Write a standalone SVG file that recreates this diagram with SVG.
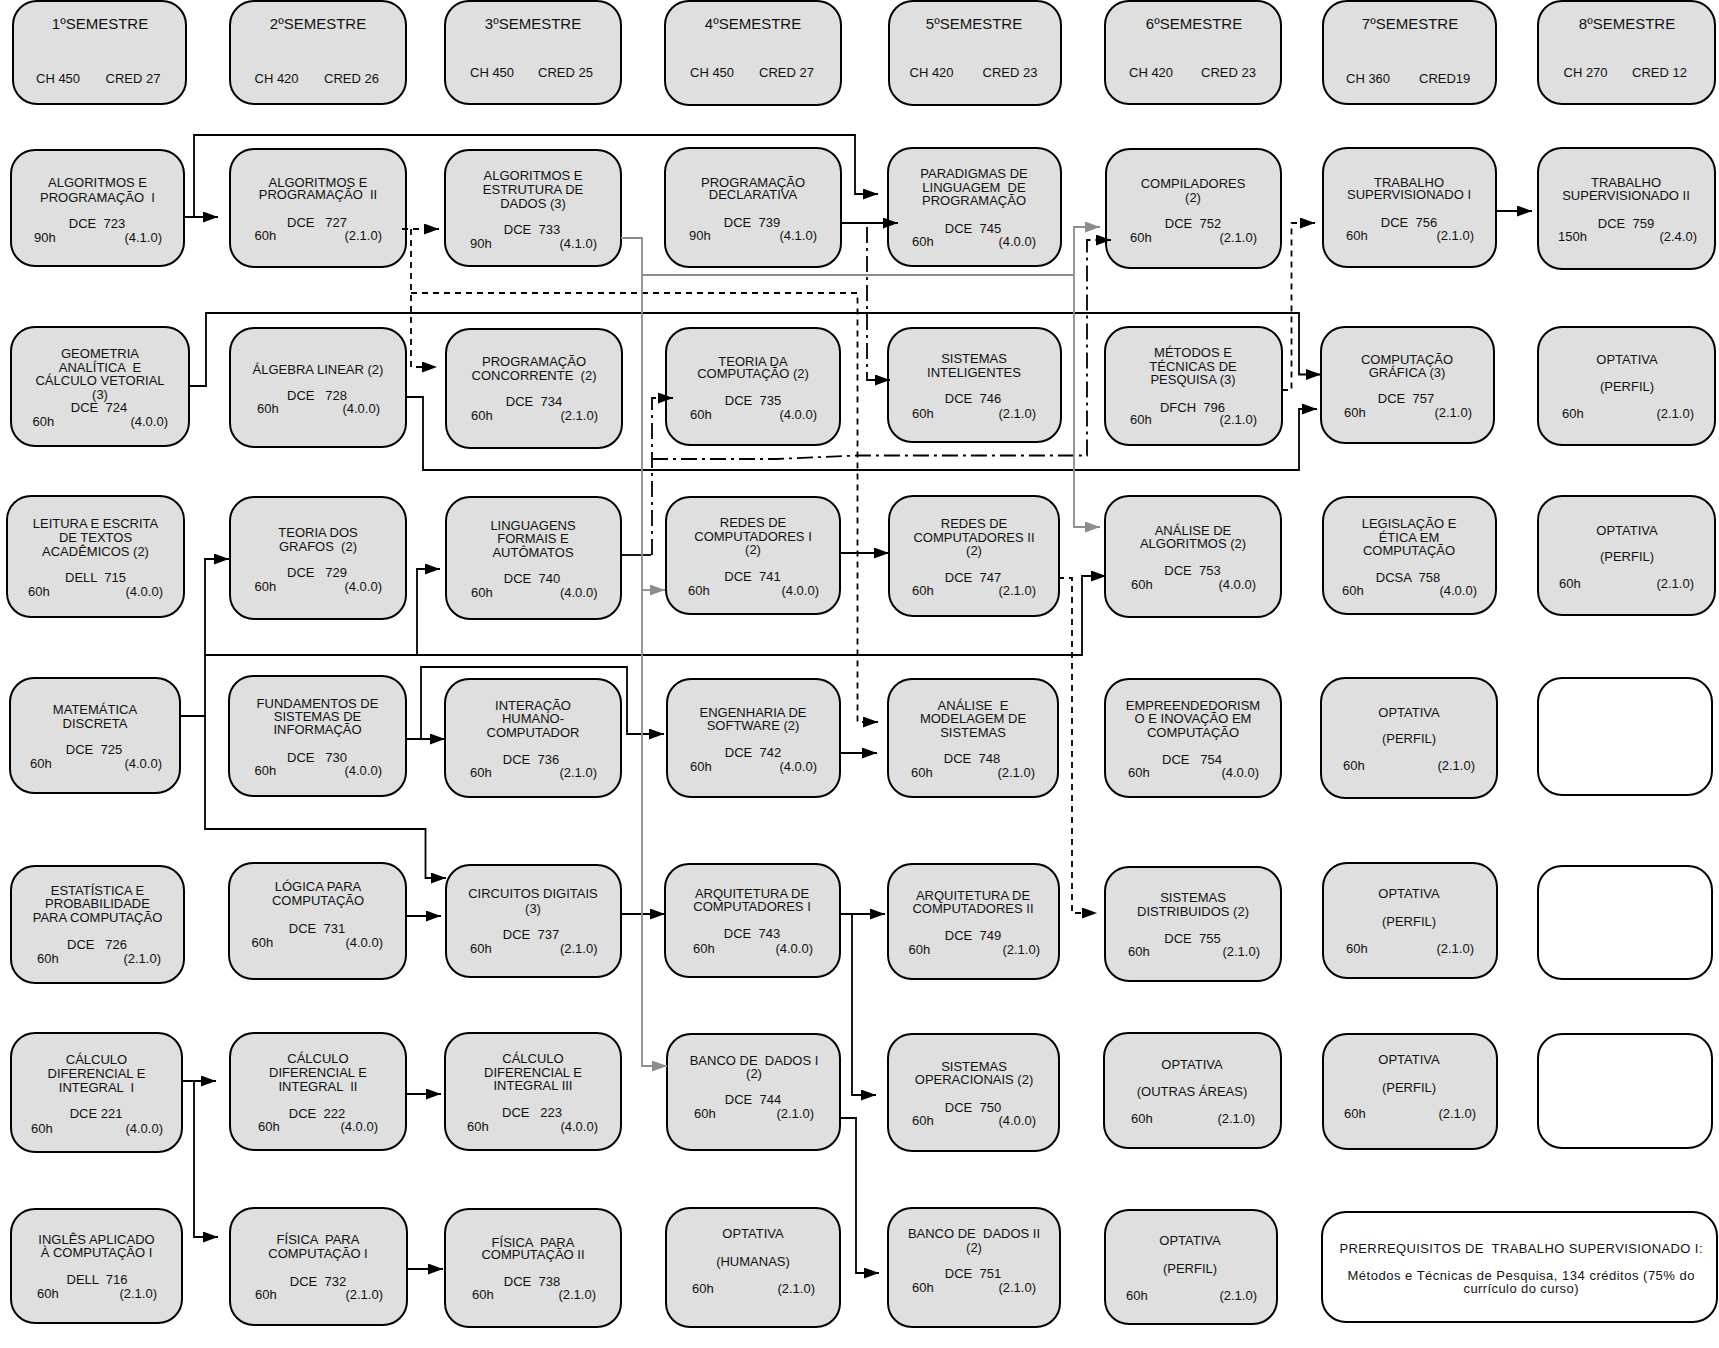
<svg xmlns="http://www.w3.org/2000/svg" width="1719" height="1348" viewBox="0 0 1719 1348">
<style>
text{font-family:"Liberation Sans",Arial,sans-serif;font-size:13px;fill:#111;white-space:pre}
.c{text-anchor:middle}
.r{text-anchor:end}
.h{font-size:15px}
.box{fill:#dfdfdf;stroke:#000;stroke-width:2}
.wbox{fill:#fff;stroke:#000;stroke-width:2}
.ln{fill:none;stroke:#000;stroke-width:1.8}
.dash{fill:none;stroke:#000;stroke-width:1.8;stroke-dasharray:6 5}
.dd{fill:none;stroke:#000;stroke-width:1.8;stroke-dasharray:16 5 3 5}
.gr{fill:none;stroke:#8c8c8c;stroke-width:1.8}
.a{marker-end:url(#ah)}
.ag{marker-end:url(#ahg)}
</style>
<defs>
<marker id="ah" viewBox="0 0 15 11" refX="15" refY="5.5" markerWidth="15" markerHeight="11" markerUnits="userSpaceOnUse" orient="auto"><path d="M0,0 L15,5.5 L0,11 z" fill="#000"/></marker>
<marker id="ahg" viewBox="0 0 15 11" refX="15" refY="5.5" markerWidth="15" markerHeight="11" markerUnits="userSpaceOnUse" orient="auto"><path d="M0,0 L15,5.5 L0,11 z" fill="#8c8c8c"/></marker>
</defs>
<rect width="1719" height="1348" fill="#fff"/>

<!-- headers -->
<g id="h1"><rect class="box" x="13" y="1" width="173" height="103" rx="24"/><text class="c h" x="100" y="28.5">1ºSEMESTRE</text><text x="36" y="82.5">CH 450</text><text x="105.5" y="82.5">CRED 27</text></g>
<g id="h2"><rect class="box" x="230" y="1" width="176" height="103" rx="24"/><text class="c h" x="318" y="28.5">2ºSEMESTRE</text><text x="254.5" y="82.5">CH 420</text><text x="324" y="82.5">CRED 26</text></g>
<g id="h3"><rect class="box" x="445" y="1" width="176" height="103" rx="24"/><text class="c h" x="533" y="28.5">3ºSEMESTRE</text><text x="470" y="76.5">CH 450</text><text x="538" y="76.5">CRED 25</text></g>
<g id="h4"><rect class="box" x="665" y="1" width="176" height="104" rx="24"/><text class="c h" x="753" y="28.5">4ºSEMESTRE</text><text x="690" y="76.5">CH 450</text><text x="759" y="76.5">CRED 27</text></g>
<g id="h5"><rect class="box" x="889" y="1" width="172" height="104" rx="24"/><text class="c h" x="974" y="28.5">5ºSEMESTRE</text><text x="909.5" y="76.5">CH 420</text><text x="982.5" y="76.5">CRED 23</text></g>
<g id="h6"><rect class="box" x="1105" y="1" width="176" height="103" rx="24"/><text class="c h" x="1194" y="28.5">6ºSEMESTRE</text><text x="1129" y="76.5">CH 420</text><text x="1201" y="76.5">CRED 23</text></g>
<g id="h7"><rect class="box" x="1323" y="1" width="173" height="103" rx="24"/><text class="c h" x="1410" y="29">7ºSEMESTRE</text><text x="1346" y="82.5">CH 360</text><text x="1419" y="82.5">CRED19</text></g>
<g id="h8"><rect class="box" x="1538" y="1" width="177" height="103" rx="24"/><text class="c h" x="1627" y="29">8ºSEMESTRE</text><text x="1563.5" y="76.5">CH 270</text><text x="1632" y="76.5">CRED 12</text></g>

<!-- row 1 -->
<g id="n723"><rect class="box" x="11" y="150" width="173" height="116" rx="24"/><text class="c" x="97.5" y="186.5">ALGORITMOS E</text><text class="c" x="97.5" y="201.5">PROGRAMAÇÃO  I</text><text class="c" x="97" y="227.5">DCE  723</text><text x="34" y="241.5">90h</text><text class="r" x="162" y="241.5">(4.1.0)</text></g>
<g id="n727"><rect class="box" x="230" y="149" width="176" height="118" rx="24"/><text class="c" x="318" y="186.5">ALGORITMOS E</text><text class="c" x="318" y="198.5">PROGRAMAÇÃO  II</text><text class="c" x="317" y="226.5">DCE   727</text><text x="254.5" y="239.5">60h</text><text class="r" x="382" y="239.5">(2.1.0)</text></g>
<g id="n733"><rect class="box" x="445" y="150" width="176" height="116" rx="24"/><text class="c" x="533" y="179.5">ALGORITMOS E</text><text class="c" x="533" y="193.5">ESTRUTURA DE</text><text class="c" x="533" y="207.5">DADOS (3)</text><text class="c" x="532" y="233.5">DCE  733</text><text x="470" y="247.5">90h</text><text class="r" x="597" y="247.5">(4.1.0)</text></g>
<g id="n739"><rect class="box" x="665" y="148" width="176" height="119" rx="24"/><text class="c" x="753" y="186.5">PROGRAMAÇÃO</text><text class="c" x="753" y="198.5">DECLARATIVA</text><text class="c" x="752" y="226.5">DCE  739</text><text x="689" y="239.5">90h</text><text class="r" x="817" y="239.5">(4.1.0)</text></g>
<g id="n745"><rect class="box" x="888" y="148" width="173" height="118" rx="24"/><text class="c" x="974" y="177.5">PARADIGMAS DE</text><text class="c" x="974" y="191.5">LINGUAGEM  DE</text><text class="c" x="974" y="204.5">PROGRAMAÇÃO</text><text class="c" x="973" y="232.5">DCE  745</text><text x="912" y="245.5">60h</text><text class="r" x="1036" y="245.5">(4.0.0)</text></g>
<g id="n752"><rect class="box" x="1106" y="149" width="175" height="119" rx="24"/><text class="c" x="1193" y="187.5">COMPILADORES</text><text class="c" x="1193" y="201.5">(2)</text><text class="c" x="1193" y="227.5">DCE  752</text><text x="1130" y="241.5">60h</text><text class="r" x="1257" y="241.5">(2.1.0)</text></g>
<g id="n756"><rect class="box" x="1323" y="148" width="173" height="119" rx="24"/><text class="c" x="1409" y="186.5">TRABALHO</text><text class="c" x="1409" y="198.5">SUPERVISIONADO I</text><text class="c" x="1409" y="226.5">DCE  756</text><text x="1346" y="239.5">60h</text><text class="r" x="1474" y="239.5">(2.1.0)</text></g>
<g id="n759"><rect class="box" x="1538" y="148" width="177" height="121" rx="24"/><text class="c" x="1626" y="186.5">TRABALHO</text><text class="c" x="1626" y="199.5">SUPERVISIONADO II</text><text class="c" x="1626" y="227.5">DCE  759</text><text x="1558" y="240.5">150h</text><text class="r" x="1697" y="240.5">(2.4.0)</text></g>

<!-- row 2 -->
<g id="n724"><rect class="box" x="11" y="327" width="178" height="119" rx="24"/><text class="c" x="100" y="357.5">GEOMETRIA</text><text class="c" x="100" y="371.5">ANALÍTICA  E</text><text class="c" x="100" y="384.5">CÁLCULO VETORIAL</text><text class="c" x="100" y="398.5">(3)</text><text class="c" x="99" y="411.5">DCE  724</text><text x="32.5" y="425.5">60h</text><text class="r" x="168" y="425.5">(4.0.0)</text></g>
<g id="n728"><rect class="box" x="230" y="328" width="176" height="119" rx="24"/><text class="c" x="318" y="373.5">ÁLGEBRA LINEAR (2)</text><text class="c" x="317" y="399.5">DCE   728</text><text x="257" y="412.5">60h</text><text class="r" x="380" y="412.5">(4.0.0)</text></g>
<g id="n734"><rect class="box" x="446" y="329" width="176" height="119" rx="24"/><text class="c" x="534" y="365.5">PROGRAMAÇÃO</text><text class="c" x="534" y="379.5">CONCORRENTE  (2)</text><text class="c" x="534" y="405.5">DCE  734</text><text x="471" y="419.5">60h</text><text class="r" x="598" y="419.5">(2.1.0)</text></g>
<g id="n735"><rect class="box" x="666" y="328" width="174" height="117" rx="24"/><text class="c" x="753" y="365.5">TEORIA DA</text><text class="c" x="753" y="378">COMPUTAÇÃO (2)</text><text class="c" x="753" y="404.5">DCE  735</text><text x="690" y="418.5">60h</text><text class="r" x="817" y="418.5">(4.0.0)</text></g>
<g id="n746"><rect class="box" x="888" y="328" width="173" height="114" rx="24"/><text class="c" x="974" y="362.5">SISTEMAS</text><text class="c" x="974" y="376.5">INTELIGENTES</text><text class="c" x="973" y="402.5">DCE  746</text><text x="912" y="417.5">60h</text><text class="r" x="1036" y="417.5">(2.1.0)</text></g>
<g id="n796"><rect class="box" x="1105" y="327" width="177" height="118" rx="24"/><text class="c" x="1193" y="356.5">MÉTODOS E</text><text class="c" x="1193" y="370.5">TÉCNICAS DE</text><text class="c" x="1193" y="383.5">PESQUISA (3)</text><text class="c" x="1192.5" y="411.5">DFCH  796</text><text x="1130" y="423.5">60h</text><text class="r" x="1257" y="423.5">(2.1.0)</text></g>
<g id="n757"><rect class="box" x="1321" y="327" width="173" height="116" rx="24"/><text class="c" x="1407" y="363.5">COMPUTAÇÃO</text><text class="c" x="1407" y="376.5">GRÁFICA (3)</text><text class="c" x="1406" y="402.5">DCE  757</text><text x="1344" y="416.5">60h</text><text class="r" x="1472" y="416.5">(2.1.0)</text></g>
<g id="opt8a"><rect class="box" x="1538" y="327" width="177" height="118" rx="24"/><text class="c" x="1627" y="363.5">OPTATIVA</text><text class="c" x="1627" y="390.5">(PERFIL)</text><text x="1562" y="417.5">60h</text><text class="r" x="1694" y="417.5">(2.1.0)</text></g>

<!-- row 3 -->
<g id="n715"><rect class="box" x="7" y="496" width="177" height="121" rx="24"/><text class="c" x="95.5" y="527.5">LEITURA E ESCRITA</text><text class="c" x="95.5" y="541.5">DE TEXTOS</text><text class="c" x="95.5" y="555.5">ACADÊMICOS (2)</text><text class="c" x="95.5" y="581.5">DELL  715</text><text x="28" y="595.5">60h</text><text class="r" x="163" y="595.5">(4.0.0)</text></g>
<g id="n729"><rect class="box" x="230" y="497" width="176" height="122" rx="24"/><text class="c" x="318" y="536.5">TEORIA DOS</text><text class="c" x="318" y="550.5">GRAFOS  (2)</text><text class="c" x="317" y="576.5">DCE   729</text><text x="254.5" y="590.5">60h</text><text class="r" x="382" y="590.5">(4.0.0)</text></g>
<g id="n740"><rect class="box" x="446" y="497" width="175" height="122" rx="24"/><text class="c" x="533" y="529.5">LINGUAGENS</text><text class="c" x="533" y="542.5">FORMAIS E</text><text class="c" x="533" y="556.5">AUTÔMATOS</text><text class="c" x="532" y="582.5">DCE  740</text><text x="471" y="596.5">60h</text><text class="r" x="597.5" y="596.5">(4.0.0)</text></g>
<g id="n741"><rect class="box" x="666" y="497" width="174" height="117" rx="24"/><text class="c" x="753" y="526.5">REDES DE</text><text class="c" x="753" y="540.5">COMPUTADORES I</text><text class="c" x="753" y="553.5">(2)</text><text class="c" x="752.5" y="580.5">DCE  741</text><text x="688" y="594.5">60h</text><text class="r" x="819" y="594.5">(4.0.0)</text></g>
<g id="n747"><rect class="box" x="889" y="496" width="170" height="120" rx="24"/><text class="c" x="974" y="527.5">REDES DE</text><text class="c" x="974" y="541.5">COMPUTADORES II</text><text class="c" x="974" y="554.5">(2)</text><text class="c" x="973" y="581.5">DCE  747</text><text x="912" y="594.5">60h</text><text class="r" x="1036" y="594.5">(2.1.0)</text></g>
<g id="n753"><rect class="box" x="1105" y="496" width="176" height="121" rx="24"/><text class="c" x="1193" y="534.5">ANÁLISE DE</text><text class="c" x="1193" y="547.5">ALGORITMOS (2)</text><text class="c" x="1192.5" y="574.5">DCE  753</text><text x="1131" y="588.5">60h</text><text class="r" x="1256" y="588.5">(4.0.0)</text></g>
<g id="n758"><rect class="box" x="1323" y="497" width="173" height="117" rx="24"/><text class="c" x="1409" y="527.5">LEGISLAÇÃO E</text><text class="c" x="1409" y="541.5">ÉTICA EM</text><text class="c" x="1409" y="554.5">COMPUTAÇÃO</text><text class="c" x="1408" y="581.5">DCSA  758</text><text x="1342" y="594.5">60h</text><text class="r" x="1477" y="594.5">(4.0.0)</text></g>
<g id="opt8b"><rect class="box" x="1538" y="496" width="177" height="119" rx="24"/><text class="c" x="1627" y="534.5">OPTATIVA</text><text class="c" x="1627" y="560.5">(PERFIL)</text><text x="1559" y="587.5">60h</text><text class="r" x="1694" y="587.5">(2.1.0)</text></g>

<!-- row 4 -->
<g id="n725"><rect class="box" x="10" y="678" width="170" height="115" rx="24"/><text class="c" x="95" y="713.5">MATEMÁTICA</text><text class="c" x="95" y="727.5">DISCRETA</text><text class="c" x="94" y="753.5">DCE  725</text><text x="30" y="767.5">60h</text><text class="r" x="162" y="767.5">(4.0.0)</text></g>
<g id="n730"><rect class="box" x="229" y="676" width="177" height="120" rx="24"/><text class="c" x="317.5" y="707.5">FUNDAMENTOS DE</text><text class="c" x="317.5" y="720.5">SISTEMAS DE</text><text class="c" x="317.5" y="733.5">INFORMAÇÃO</text><text class="c" x="317" y="761.5">DCE   730</text><text x="254.5" y="774.5">60h</text><text class="r" x="382" y="774.5">(4.0.0)</text></g>
<g id="n736"><rect class="box" x="445" y="679" width="176" height="118" rx="24"/><text class="c" x="533" y="709.5">INTERAÇÃO</text><text class="c" x="533" y="722.5">HUMANO-</text><text class="c" x="533" y="736.5">COMPUTADOR</text><text class="c" x="531" y="763.5">DCE  736</text><text x="470" y="776.5">60h</text><text class="r" x="597" y="776.5">(2.1.0)</text></g>
<g id="n742"><rect class="box" x="667" y="679" width="173" height="118" rx="24"/><text class="c" x="753" y="716.5">ENGENHARIA DE</text><text class="c" x="753" y="729.5">SOFTWARE (2)</text><text class="c" x="753" y="756.5">DCE  742</text><text x="690" y="770.5">60h</text><text class="r" x="817" y="770.5">(4.0.0)</text></g>
<g id="n748"><rect class="box" x="888" y="679" width="170" height="118" rx="24"/><text class="c" x="973" y="709.5">ANÁLISE  E</text><text class="c" x="973" y="722.5">MODELAGEM DE</text><text class="c" x="973" y="736.5">SISTEMAS</text><text class="c" x="972" y="762.5">DCE  748</text><text x="911" y="776.5">60h</text><text class="r" x="1035" y="776.5">(2.1.0)</text></g>
<g id="n754"><rect class="box" x="1105" y="679" width="176" height="118" rx="24"/><text class="c" x="1193" y="709.5">EMPREENDEDORISM</text><text class="c" x="1193" y="722.5">O E INOVAÇÃO EM</text><text class="c" x="1193" y="736.5">COMPUTAÇÃO</text><text class="c" x="1192" y="763.5">DCE   754</text><text x="1128" y="776.5">60h</text><text class="r" x="1259" y="776.5">(4.0.0)</text></g>
<g id="opt7a"><rect class="box" x="1321" y="678" width="176" height="120" rx="24"/><text class="c" x="1409" y="716.5">OPTATIVA</text><text class="c" x="1409" y="742.5">(PERFIL)</text><text x="1343" y="769.5">60h</text><text class="r" x="1475" y="769.5">(2.1.0)</text></g>
<g id="e8a"><rect class="wbox" x="1538" y="678" width="174" height="117" rx="24"/></g>

<!-- row 5 -->
<g id="n726"><rect class="box" x="11" y="866" width="173" height="117" rx="24"/><text class="c" x="97.5" y="894.5">ESTATÍSTICA E</text><text class="c" x="97.5" y="908">PROBABILIDADE</text><text class="c" x="97.5" y="921.5">PARA COMPUTAÇÃO</text><text class="c" x="97" y="948.5">DCE   726</text><text x="37" y="962.5">60h</text><text class="r" x="161" y="962.5">(2.1.0)</text></g>
<g id="n731"><rect class="box" x="229" y="863" width="177" height="116" rx="24"/><text class="c" x="318" y="890.5">LÓGICA PARA</text><text class="c" x="318" y="904.5">COMPUTAÇÃO</text><text class="c" x="317" y="932.5">DCE  731</text><text x="251.5" y="946.5">60h</text><text class="r" x="383" y="946.5">(4.0.0)</text></g>
<g id="n737"><rect class="box" x="446" y="865" width="175" height="112" rx="24"/><text class="c" x="533" y="897.5">CIRCUITOS DIGITAIS</text><text class="c" x="533" y="912.5">(3)</text><text class="c" x="531" y="938.5">DCE  737</text><text x="470" y="952.5">60h</text><text class="r" x="597.5" y="952.5">(2.1.0)</text></g>
<g id="n743"><rect class="box" x="665" y="864" width="175" height="113" rx="24"/><text class="c" x="752" y="897.5">ARQUITETURA DE</text><text class="c" x="752" y="910.5">COMPUTADORES I</text><text class="c" x="752" y="937.5">DCE  743</text><text x="693" y="952.5">60h</text><text class="r" x="813" y="952.5">(4.0.0)</text></g>
<g id="n749"><rect class="box" x="888" y="864" width="171" height="115" rx="24"/><text class="c" x="973" y="899.5">ARQUITETURA DE</text><text class="c" x="973" y="912.5">COMPUTADORES II</text><text class="c" x="973" y="939.5">DCE  749</text><text x="908.5" y="953.5">60h</text><text class="r" x="1040" y="953.5">(2.1.0)</text></g>
<g id="n755"><rect class="box" x="1105" y="867" width="176" height="114" rx="24"/><text class="c" x="1193" y="901.5">SISTEMAS</text><text class="c" x="1193" y="915.5">DISTRIBUIDOS (2)</text><text class="c" x="1192.5" y="942.5">DCE  755</text><text x="1128" y="955.5">60h</text><text class="r" x="1260" y="955.5">(2.1.0)</text></g>
<g id="opt7b"><rect class="box" x="1323" y="863" width="174" height="115" rx="24"/><text class="c" x="1409" y="898">OPTATIVA</text><text class="c" x="1409" y="925.5">(PERFIL)</text><text x="1346" y="952.5">60h</text><text class="r" x="1474" y="952.5">(2.1.0)</text></g>
<g id="e8b"><rect class="wbox" x="1538" y="866" width="174" height="113" rx="24"/></g>

<!-- row 6 -->
<g id="n221"><rect class="box" x="11" y="1033" width="171" height="119" rx="24"/><text class="c" x="96.5" y="1063.5">CÁLCULO</text><text class="c" x="96.5" y="1077.5">DIFERENCIAL E</text><text class="c" x="96.5" y="1091.5">INTEGRAL  I</text><text class="c" x="96" y="1117.5">DCE 221</text><text x="31" y="1132.5">60h</text><text class="r" x="163" y="1132.5">(4.0.0)</text></g>
<g id="n222"><rect class="box" x="230" y="1033" width="176" height="117" rx="24"/><text class="c" x="318" y="1062.5">CÁLCULO</text><text class="c" x="318" y="1076.5">DIFERENCIAL E</text><text class="c" x="318" y="1090.5">INTEGRAL  II</text><text class="c" x="317" y="1117.5">DCE  222</text><text x="258" y="1130.5">60h</text><text class="r" x="378" y="1130.5">(4.0.0)</text></g>
<g id="n223"><rect class="box" x="445" y="1033" width="176" height="117" rx="24"/><text class="c" x="533" y="1062.5">CÁLCULO</text><text class="c" x="533" y="1076.5">DIFERENCIAL E</text><text class="c" x="533" y="1089.5">INTEGRAL III</text><text class="c" x="532" y="1116.5">DCE   223</text><text x="467" y="1130.5">60h</text><text class="r" x="598" y="1130.5">(4.0.0)</text></g>
<g id="n744"><rect class="box" x="667" y="1034" width="173" height="116" rx="24"/><text class="c" x="754" y="1064.5">BANCO DE  DADOS I</text><text class="c" x="754" y="1077.5">(2)</text><text class="c" x="753" y="1103.5">DCE  744</text><text x="694" y="1117.5">60h</text><text class="r" x="814" y="1117.5">(2.1.0)</text></g>
<g id="n750"><rect class="box" x="888" y="1034" width="171" height="117" rx="24"/><text class="c" x="974" y="1070.5">SISTEMAS</text><text class="c" x="974" y="1083.5">OPERACIONAIS (2)</text><text class="c" x="973" y="1111.5">DCE  750</text><text x="912" y="1124.5">60h</text><text class="r" x="1036" y="1124.5">(4.0.0)</text></g>
<g id="opt6a"><rect class="box" x="1104" y="1033" width="177" height="115" rx="24"/><text class="c" x="1192" y="1068.5">OPTATIVA</text><text class="c" x="1192" y="1095.5">(OUTRAS ÁREAS)</text><text x="1131" y="1122.5">60h</text><text class="r" x="1255" y="1122.5">(2.1.0)</text></g>
<g id="opt7c"><rect class="box" x="1323" y="1034" width="174" height="115" rx="24"/><text class="c" x="1409" y="1063.5">OPTATIVA</text><text class="c" x="1409" y="1091.5">(PERFIL)</text><text x="1344" y="1117.5">60h</text><text class="r" x="1476" y="1117.5">(2.1.0)</text></g>
<g id="e8c"><rect class="wbox" x="1538" y="1034" width="174" height="114" rx="24"/></g>

<!-- row 7 -->
<g id="n716"><rect class="box" x="11" y="1209" width="171" height="114" rx="24"/><text class="c" x="96.5" y="1243.5">INGLÊS APLICADO</text><text class="c" x="96.5" y="1256.5">À COMPUTAÇÃO I</text><text class="c" x="97" y="1283.5">DELL  716</text><text x="37" y="1297.5">60h</text><text class="r" x="157" y="1297.5">(2.1.0)</text></g>
<g id="n732"><rect class="box" x="230" y="1208" width="177" height="117" rx="24"/><text class="c" x="318" y="1243.5">FÍSICA  PARA</text><text class="c" x="318" y="1257.5">COMPUTAÇÃO I</text><text class="c" x="318" y="1285.5">DCE  732</text><text x="255" y="1298.5">60h</text><text class="r" x="383" y="1298.5">(2.1.0)</text></g>
<g id="n738"><rect class="box" x="445" y="1209" width="176" height="118" rx="24"/><text class="c" x="533" y="1246.5">FÍSICA  PARA</text><text class="c" x="533" y="1258.5">COMPUTAÇÃO II</text><text class="c" x="532" y="1285.5">DCE  738</text><text x="472" y="1298.5">60h</text><text class="r" x="596" y="1298.5">(2.1.0)</text></g>
<g id="opt4"><rect class="box" x="666" y="1208" width="174" height="119" rx="24"/><text class="c" x="753" y="1237.5">OPTATIVA</text><text class="c" x="753" y="1265.5">(HUMANAS)</text><text x="692" y="1292.5">60h</text><text class="r" x="815" y="1292.5">(2.1.0)</text></g>
<g id="n751"><rect class="box" x="888" y="1208" width="172" height="119" rx="24"/><text class="c" x="974" y="1237.5">BANCO DE  DADOS II</text><text class="c" x="974" y="1251.5">(2)</text><text class="c" x="973" y="1277.5">DCE  751</text><text x="912" y="1291.5">60h</text><text class="r" x="1036" y="1291.5">(2.1.0)</text></g>
<g id="opt6b"><rect class="box" x="1105" y="1210" width="172" height="114" rx="24"/><text class="c" x="1190" y="1244.5">OPTATIVA</text><text class="c" x="1190" y="1272.5">(PERFIL)</text><text x="1126" y="1299.5">60h</text><text class="r" x="1257" y="1299.5">(2.1.0)</text></g>
<g id="prereq"><rect class="wbox" x="1322" y="1212" width="395" height="110" rx="24"/><text class="c" x="1521" y="1252.5" textLength="363" lengthAdjust="spacing">PRERREQUISITOS DE  TRABALHO SUPERVISIONADO I:</text><text class="c" x="1521" y="1279.5" textLength="347" lengthAdjust="spacing">Métodos e Técnicas de Pesquisa, 134 créditos (75% do</text><text class="c" x="1521" y="1292.5" textLength="115" lengthAdjust="spacing">currículo do curso)</text></g>

<!-- connectors -->
<g id="connectors">
<path class="ln a" d="M184,217 H218"/>
<path class="ln a" d="M194,217 V135 H855 V194 H878"/>
<path class="ln a" d="M841,223 H898"/>
<path class="ln a" d="M189,386 H206 V313 H1299 V374.5 H1321"/>
<path class="ln a" d="M405,397 H423 V470 H1299 V409 H1317"/>
<path class="ln a" d="M180,716 H205 V559 H229"/>
<path class="ln a" d="M205,716 V829 H425.5 V878 H446"/>
<path class="ln a" d="M205,655 H1082 V576 H1106"/>
<path class="ln a" d="M417,655 V569 H440"/>
<path class="ln a" d="M405,739 H445"/>
<path class="ln a" d="M421,739 V667 H627 V734 H664"/>
<path class="ln a" d="M840,753 H877"/>
<path class="ln a" d="M840,553 H889"/>
<path class="ln a" d="M405,916 H441"/>
<path class="ln a" d="M621,914 H665"/>
<path class="ln a" d="M840,914 H885"/>
<path class="ln a" d="M852,914 V1095 H876"/>
<path class="ln a" d="M840,1118 H856 V1273 H879"/>
<path class="ln a" d="M181,1081 H216"/>
<path class="ln a" d="M194,1081 V1237 H218"/>
<path class="ln a" d="M405,1094 H441"/>
<path class="ln a" d="M406,1269 H443"/>
<path class="ln a" d="M1496,211 H1532"/>
<path class="ln" d="M621,555 H651"/>
<path class="dash a" d="M402,229 H439"/>
<path class="dash a" d="M411,229 V367 H437"/>
<path class="dash a" d="M411,293 H857.5 V722 H878"/>
<path class="dash a" d="M1058,578 H1072 V913 H1097"/>
<path class="dash a" d="M1282,390 H1291.5 V223 H1315"/>
<path class="dd a" d="M867,227 V380 H890"/>
<path class="dd a" d="M652,555 V398 H673"/>
<path class="dd a" d="M652,459 H777 L857,455.5 H1087 V240 H1111"/>
<path class="gr ag" d="M621,238 H642 V1066 H667"/>
<path class="gr ag" d="M642,275 H1074 V227 H1100"/>
<path class="gr ag" d="M1074,275 V527 H1100"/>
<path class="gr ag" d="M642,590 H665"/>
</g>
</svg>
